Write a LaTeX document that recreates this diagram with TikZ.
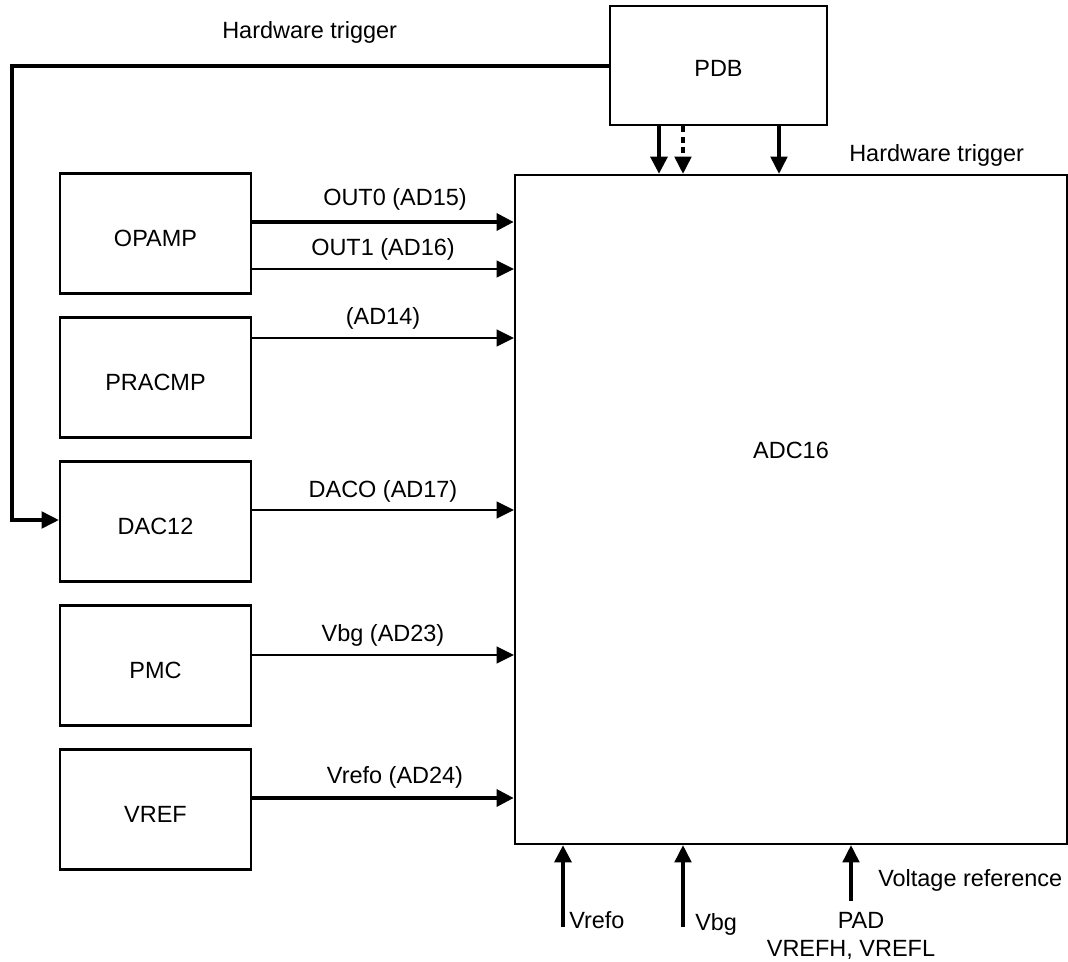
\documentclass[tikz,border=0pt]{standalone}
\usepackage{fontspec}
\setmainfont{Liberation Sans}
\usetikzlibrary{arrows.meta}
\begin{document}
\begin{tikzpicture}[x=0.75pt,y=-0.75pt,
  lbl/.style={inner sep=0pt, font=\fontsize{17.6}{21}\selectfont},
  box/.style={draw, line width=1.7pt, inner sep=0pt, minimum width=143.25pt, minimum height=90pt,
    text height=20pt, text depth=0pt, font=\fontsize{17.6}{21}\selectfont},
  wire/.style={line width=1.8pt},
  wiremid/.style={line width=2.4pt},
  wirethick/.style={line width=3.4pt},
  arr/.style={-{Triangle[length=13pt,width=12.5pt]}},
  dashwire/.style={line width=2.4pt, dash pattern=on 4.5pt off 3.5pt}
]
\useasboundingbox (0,0) rectangle (1068,961);
\fill[white] (0,0) rectangle (1068,961);

% boxes
\node[box, minimum width=162.75pt, minimum height=89.25pt, text height=17pt] (pdb) at (718.5,65.5) {PDB};
\node[box, minimum width=414pt, minimum height=501.75pt] (adc) at (791,509.5) {};
\node[lbl, anchor=base] (adctext) at (791,458) {ADC16};
\node[box] (opamp) at (155.5,233.5) {OPAMP};
\node[box] (pracmp) at (155.5,377.5) {PRACMP};
\node[box] (dac) at (155.5,521.5) {DAC12};
\node[box] (pmc) at (155.5,665.5) {PMC};
\node[box] (vref) at (155.5,809.5) {VREF};

% input arrows from left boxes
\coordinate (r1) at (0,222);
\coordinate (r2) at (0,269);
\coordinate (r3) at (0,338);
\coordinate (r4) at (0,510);
\coordinate (r5) at (0,655);
\coordinate (r6) at (0,798);
\draw[wirethick,arr] (opamp.east |- r1) -- (adc.west |- r1);
\draw[wire,arr] (opamp.east |- r2) -- (adc.west |- r2);
\draw[wire,arr] (pracmp.east |- r3) -- (adc.west |- r3);
\draw[wire,arr] (dac.east |- r4) -- (adc.west |- r4);
\draw[wire,arr] (pmc.east |- r5) -- (adc.west |- r5);
\draw[wirethick,arr] (vref.east |- r6) -- (adc.west |- r6);

\node[lbl, anchor=base] (t1) at (395,205) {OUT0 (AD15)};
\node[lbl, anchor=base] (t2) at (383,255) {OUT1 (AD16)};
\node[lbl, anchor=base] (t3) at (383,324) {(AD14)};
\node[lbl, anchor=base] (t4) at (383,497) {DACO (AD17)};
\node[lbl, anchor=base] (t5) at (383,641) {Vbg (AD23)};
\node[lbl, anchor=base] (t6) at (395,783) {Vrefo (AD24)};

% hardware trigger to DAC12
\coordinate (tl) at (12,66);
\coordinate (tdac) at (0,520);
\draw[wiremid,arr] (pdb.west |- tl) -- (tl) |- (dac.west |- tdac);
\node[lbl, anchor=base west] (hw1) at (222,38) {Hardware trigger};

% PDB to ADC triggers
\coordinate (p1) at (659,0);
\coordinate (p2) at (683,0);
\coordinate (p3) at (779,0);
\draw[wirethick,arr] (pdb.south -| p1) -- (adc.north -| p1);
\draw[dashwire,arr] (pdb.south -| p2) -- (adc.north -| p2);
\draw[wiremid,arr] (pdb.south -| p3) -- (adc.north -| p3);
\node[lbl, anchor=base west] (hw2) at (849,161) {Hardware trigger};

% bottom inputs
\coordinate (b1) at (563,927);
\coordinate (b2) at (683,927);
\coordinate (b3) at (851,901);
\draw[wirethick,arr] (b1) -- (adc.south -| b1);
\draw[wiremid,arr] (b2) -- (adc.south -| b2);
\draw[wiremid,arr] (b3) -- (adc.south -| b3);
\node[lbl, anchor=base west] (bv1) at (569,928) {Vrefo};
\node[lbl, anchor=base west] (bv2) at (695,930) {Vbg};
\node[lbl, anchor=base west] (bv3) at (878,886) {Voltage reference};
\node[lbl, anchor=base] (bv4) at (861,928) {PAD};
\node[lbl, anchor=base] (bv5) at (851,956) {VREFH, VREFL};
\end{tikzpicture}
\end{document}
